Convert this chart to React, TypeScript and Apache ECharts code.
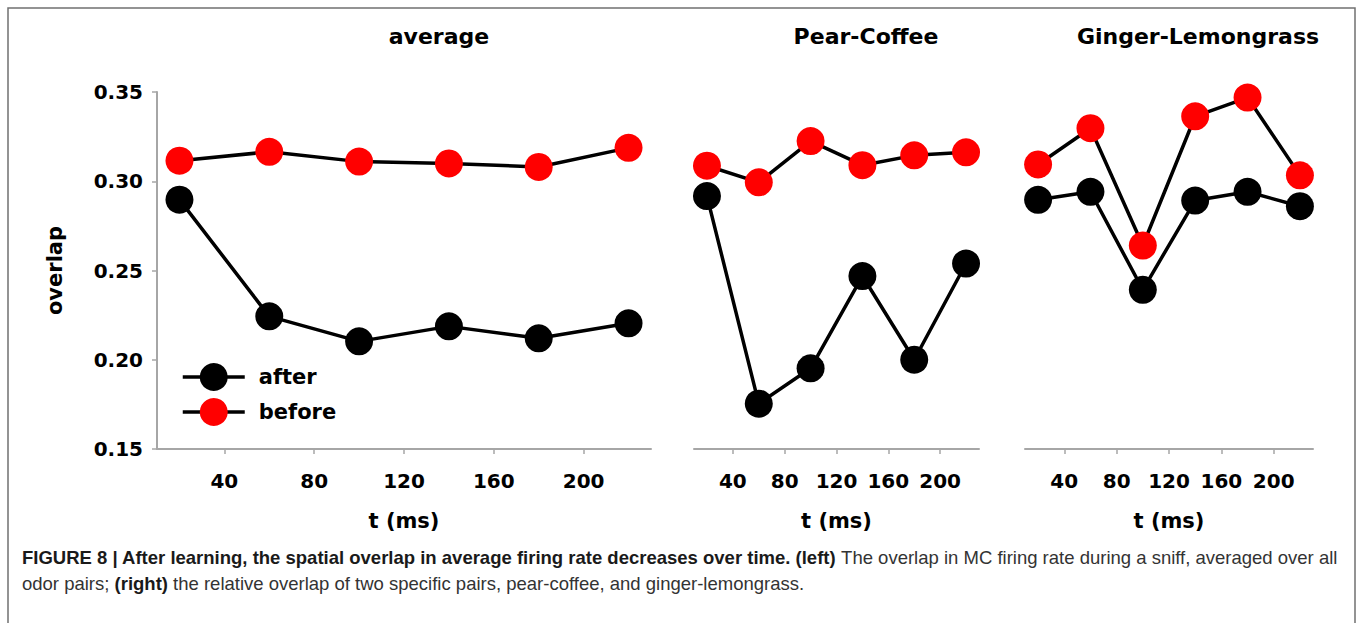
import React, { useEffect, useRef } from "react";
import * as echarts from "echarts";

// ---- data ----
const times = [20, 60, 100, 140, 180, 220];
const xTicks = [40, 80, 120, 160, 200];
const panelTitles = ["average", "Pear-Coffee", "Ginger-Lemongrass"];
const seriesNames = ["after", "before"];
const avgAfter = [0.2897, 0.2243, 0.2103, 0.2187, 0.212, 0.2204];
const avgBefore = [0.3115, 0.3165, 0.311, 0.31, 0.308, 0.3187];
const pcAfter = [0.2917, 0.1754, 0.1952, 0.2469, 0.2, 0.2539];
const pcBefore = [0.3087, 0.2994, 0.3225, 0.309, 0.3145, 0.3162];
const glAfter = [0.2896, 0.2941, 0.2392, 0.2892, 0.2941, 0.286];
const glBefore = [0.3094, 0.3297, 0.264, 0.3364, 0.3469, 0.3033];

const panelAfter = [avgAfter, pcAfter, glAfter];
const panelBefore = [avgBefore, pcBefore, glBefore];

const captionLine1Bold =
  "FIGURE 8 | After learning, the spatial overlap in average firing rate decreases over time. (left)";
const captionLine1Rest = " The overlap in MC firing rate during a sniff, averaged over all";
const captionLine2a = "odor pairs; ";
const captionLine2Bold = "(right)";
const captionLine2b = " the relative overlap of two specific pairs, pear-coffee, and ginger-lemongrass.";

const FONT = "DejaVu Sans";
const AXIS_GRAY = "#a6a6a6";

export default function App() {
  const ref = useRef<HTMLDivElement>(null);

  useEffect(() => {
    if (!ref.current) return;
    const chart = echarts.init(ref.current, undefined, { renderer: "svg" });

    const grids = [
      { left: 157, top: 92, width: 494, height: 357 },
      { left: 694, top: 92, width: 285, height: 357 },
      { left: 1025, top: 92, width: 288, height: 357 },
    ];
    const titleX = [439, 866, 1198];

    const boldText = { fontFamily: FONT, fontWeight: "bold" as const, color: "#000" };

    const xAxes = grids.map((_, i) => ({
      type: "value",
      gridIndex: i,
      min: 10,
      max: 230,
      axisLine: { show: true, lineStyle: { color: AXIS_GRAY, width: 2 } },
      axisTick: {
        show: true,
        customValues: xTicks,
        length: 5,
        lineStyle: { color: AXIS_GRAY, width: 1.5 },
      },
      axisLabel: { customValues: xTicks, margin: 22, fontSize: 20, ...boldText },
      splitLine: { show: false },
      name: "t (ms)",
      nameLocation: "middle",
      nameGap: 61,
      nameTextStyle: { fontSize: 21, ...boldText },
    }));

    const yAxes = grids.map((_, i) => ({
      type: "value",
      gridIndex: i,
      min: 0.15,
      max: 0.35,
      interval: 0.05,
      show: i === 0,
      axisLine: { show: true, lineStyle: { color: AXIS_GRAY, width: 2 } },
      axisTick: { show: true, length: 5, lineStyle: { color: AXIS_GRAY, width: 1.5 } },
      axisLabel: {
        margin: 14,
        fontSize: 20,
        ...boldText,
        formatter: (v: number) => v.toFixed(2),
      },
      splitLine: { show: false },
      name: i === 0 ? "overlap" : "",
      nameLocation: "middle",
      nameGap: 92,
      nameTextStyle: { fontSize: 21, ...boldText },
    }));

    const series: any[] = [];
    grids.forEach((_, i) => {
      [panelAfter[i], panelBefore[i]].forEach((vals, k) => {
        series.push({
          type: "line",
          name: seriesNames[k],
          xAxisIndex: i,
          yAxisIndex: i,
          data: times.map((t, j) => [t, vals[j]]),
          symbol: "circle",
          symbolSize: 28,
          itemStyle: { color: k === 0 ? "#000000" : "#ff0000" },
          lineStyle: { color: "#000000", width: 3.5 },
          emphasis: { disabled: true },
        });
      });
    });

    const captionRich = {
      b: { fontFamily: "Liberation Sans", fontWeight: "bold", fontSize: 18.5, fill: "#1a1a1a" },
      n: { fontFamily: "Liberation Sans", fontSize: 18.5, fill: "#333" },
    };

    const graphic: any[] = [
      {
        type: "rect",
        shape: { x: 8, y: 8, width: 1347, height: 640 },
        style: { fill: "none", stroke: "#707070", lineWidth: 1.5 },
        silent: true,
      },
      ...panelTitles.map((t, i) => ({
        type: "text",
        x: titleX[i],
        y: 36,
        style: {
          text: t,
          fontFamily: FONT,
          fontWeight: "bold",
          fontSize: 22,
          fill: "#000",
          align: "center",
          verticalAlign: "middle",
        },
      })),
      {
        type: "text",
        x: 22,
        y: 557,
        style: {
          text: `{b|${captionLine1Bold}}{n|${captionLine1Rest}}`,
          verticalAlign: "middle",
          rich: captionRich,
        },
      },
      {
        type: "text",
        x: 22,
        y: 583,
        style: {
          text: `{n|${captionLine2a}}{b|${captionLine2Bold}}{n|${captionLine2b}}`,
          verticalAlign: "middle",
          rich: captionRich,
        },
      },
    ];

    chart.setOption({
      animation: false,
      backgroundColor: "#ffffff",
      grid: grids,
      xAxis: xAxes,
      yAxis: yAxes,
      series,
      legend: {
        data: seriesNames,
        orient: "vertical",
        left: 181,
        top: 363,
        padding: 0,
        itemWidth: 62,
        itemHeight: 35,
        itemGap: 7,
        selectedMode: false,
        lineStyle: { width: 3.5, color: "#000" },
        textStyle: { fontSize: 21, ...boldText, padding: [0, 0, 0, 9] },
      },
      graphic,
    });

    return () => chart.dispose();
  }, []);

  return (
    <div
      ref={ref}
      style={{ position: "absolute", left: 0, top: 0, width: 1357, height: 623 }}
    />
  );
}
